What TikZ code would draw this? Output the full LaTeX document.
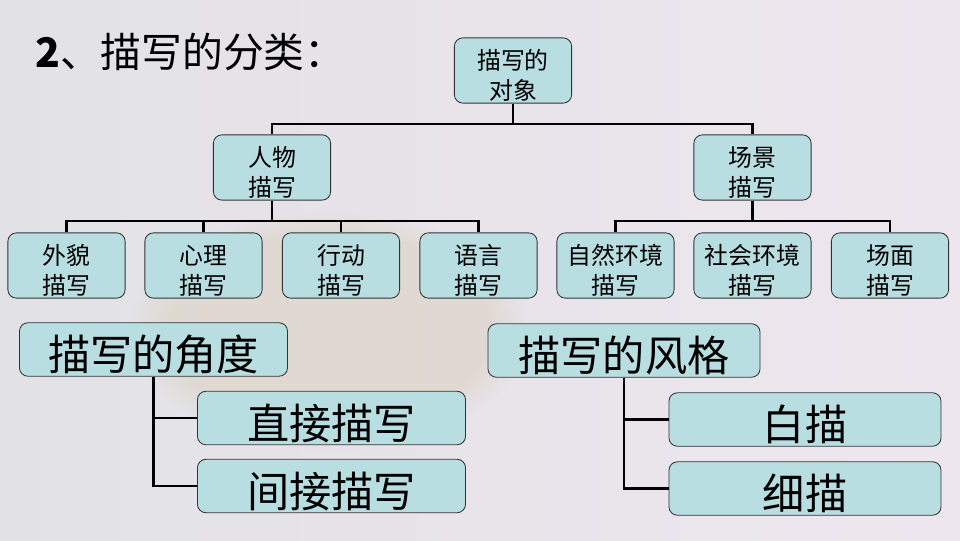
\documentclass[tikz,border=0pt]{standalone}
\usepackage{fontspec}
\setmainfont{Noto Sans CJK SC}
\usetikzlibrary{fadings}
\definecolor{boxfill}{HTML}{B8DEE2}
\definecolor{bgleft}{HTML}{E2E2E6}
\definecolor{bgright}{HTML}{EEE6EE}
\definecolor{blur}{HTML}{D8CDB8}
\begin{document}
\begin{tikzpicture}[x=0.025cm, y=-0.025cm, thick,
  smallbox/.style={draw=black!80, line width=0.6pt, fill=boxfill, rounded corners=6pt,
    minimum width=2.93cm, minimum height=1.63cm, align=center, inner sep=1pt,
    font=\fontsize{17}{21}\selectfont, text height=42pt},
  bigbox/.style={draw=black!80, line width=0.6pt, fill=boxfill, rounded corners=6pt,
    minimum width=6.7cm, minimum height=1.13cm, inner sep=1pt,
    font=\fontsize{30}{34}\selectfont, text height=33pt, text depth=3pt},
  link/.style={line width=1.8pt}]
\fill[left color=bgleft, right color=bgright] (0,0) rectangle (960,540);
\fill[blur, opacity=0.45, path fading=circle with fuzzy edge 20 percent] (330,330) ellipse [x radius=200, y radius=120];
\node[anchor=west, font=\fontsize{29}{35}\selectfont] (title) at (30,52) {{\bfseries 2}、描写的分类：};
\node[smallbox] (root) at (513,70.5) {描写的\\对象};
\node[smallbox] (renwu) at (272,167.5) {人物\\描写};
\node[smallbox] (changjing) at (752.5,167.5) {场景\\描写};
\node[smallbox] (waimao) at (66.5,265.5) {外貌\\描写};
\node[smallbox] (xinli) at (203.5,265.5) {心理\\描写};
\node[smallbox] (xingdong) at (341,265.5) {行动\\描写};
\node[smallbox] (yuyan) at (478.5,265.5) {语言\\描写};
\node[smallbox] (ziran) at (615.5,265.5) {自然环境\\描写};
\node[smallbox] (shehui) at (752.5,265.5) {社会环境\\描写};
\node[smallbox] (changmian) at (890,265.5) {场面\\描写};
\coordinate (j1) at (513,124);
\coordinate (j2) at (272,221);
\coordinate (j3) at (752.5,221);
\draw[link] (root.south) -- (j1);
\draw[link] (renwu.north) |- (j1) -| (changjing.north);
\draw[link] (renwu.south) -- (j2);
\draw[link] (waimao.north) |- (j2) -| (yuyan.north);
\draw[link] (xinli.north) -- (xinli.north |- j2);
\draw[link] (xingdong.north) -- (xingdong.north |- j2);
\draw[link] (changjing.south) -- (j3);
\draw[link] (ziran.north) |- (j3) -| (changmian.north);
\node[bigbox] (jiaodu) at (153.5,349.5) {描写的角度};
\node[bigbox] (zhijie) at (331.5,418) {直接描写};
\node[bigbox] (jianjie) at (331.5,486) {间接描写};
\node[bigbox, minimum width=6.8cm] (fengge) at (624,350.5) {描写的风格};
\node[bigbox, minimum width=6.8cm] (baimiao) at (805,419.5) {白描};
\node[bigbox, minimum width=6.8cm] (ximiao) at (805,488.5) {细描};
\draw[link] (jiaodu.south) |- (zhijie.west);
\draw[link] (jiaodu.south) |- (jianjie.west);
\draw[link] (fengge.south) |- (baimiao.west);
\draw[link] (fengge.south) |- (ximiao.west);
\end{tikzpicture}
\end{document}
